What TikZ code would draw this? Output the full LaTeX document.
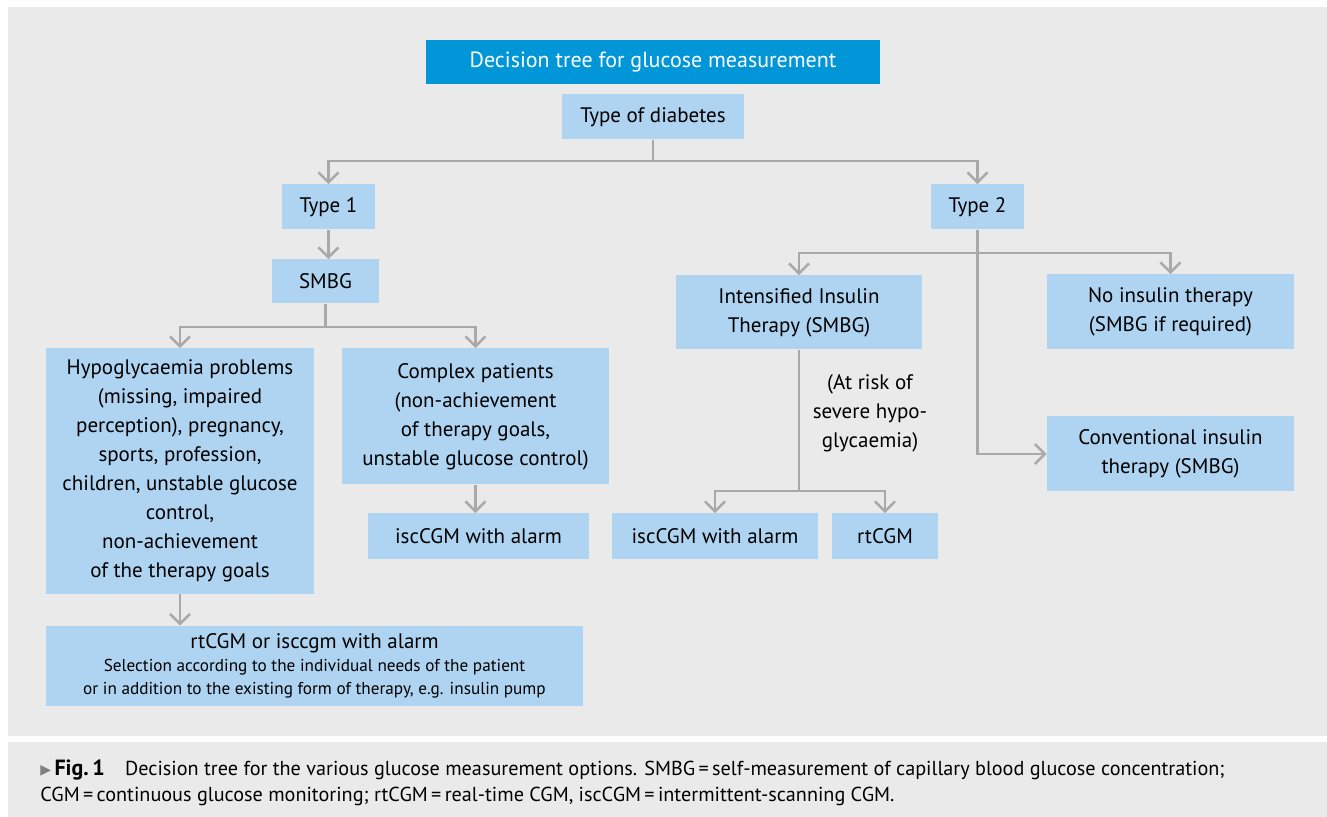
\documentclass[tikz,border=0pt]{standalone}
\usepackage{fontspec}
\setmainfont{PT Sans}
\newfontfamily\symfont{DejaVu Sans}
\usetikzlibrary{arrows.meta,positioning}
\definecolor{panelgray}{HTML}{EAEAEA}
\definecolor{boxblue}{HTML}{AED4F1}
\definecolor{titleblue}{HTML}{0096D8}
\definecolor{linkgray}{HTML}{A9A9A9}
\tikzset{
  treebox/.style={rectangle, fill=boxblue, align=center, inner sep=0pt,
                  minimum height=22.5pt,
                  font=\fontsize{10.5}{14.5}\selectfont},
  titlebox/.style={rectangle, fill=titleblue, text=white, align=center,
                   inner sep=0pt, minimum width=227pt, minimum height=22pt,
                   font=\fontsize{11}{14.5}\selectfont},
  link/.style={draw=linkgray, line width=1.25pt,
               -{Straight Barb[length=5pt, width=10pt, line width=1.25pt]}},
  risklabel/.style={align=center, inner sep=0pt,
                    font=\fontsize{10.5}{14.5}\selectfont},
  captext/.style={align=left, inner sep=0pt, anchor=west,
                  font=\fontsize{10.1}{13}\selectfont},
}
\begin{document}
\begin{tikzpicture}[x=0.5pt, y=-0.5pt]
    \useasboundingbox (0,0) rectangle (1327,817);
    % panels
    \fill[white] (0,0) rectangle (1327,817);
    \fill[panelgray] (8,7) rectangle (1327,736);
    \fill[panelgray] (8,742) rectangle (1327,817);

    \node[titlebox] (title) at (653,62) {Decision tree for glucose measurement};
    \node[treebox, minimum width=91pt] (diab) at (653,117) {Type of diabetes};

    % type 1 branch
    \node[treebox, minimum width=46.5pt] (type1) at (328.5,207) {Type 1};
    \node[treebox, minimum width=53.5pt, minimum height=22pt] (smbg) at (325.5,281.5) {SMBG};
    \node[treebox, minimum width=134pt, minimum height=122.5pt] (hypo) at (180,471)
      {Hypoglycaemia problems\\(missing, impaired\\perception), pregnancy,\\sports, profession,\\children, unstable glucose\\control,\\non-achievement\\of the therapy goals};
    \node[treebox, minimum width=133.5pt, minimum height=68pt] (complex) at (475.5,416.5)
      {Complex patients\\(non-achievement\\of therapy goals,\\unstable glucose control)};
    \node[treebox, minimum width=110.5pt] (isc1) at (478.5,536) {iscCGM with alarm};
    \node[treebox, minimum width=268.5pt, minimum height=40pt,
          font=\fontsize{8.6}{11.5}\selectfont] (rtor) at (314.5,666)
      {{\fontsize{10.5}{12}\selectfont rtCGM or isccgm with alarm}\\
       Selection according to the individual needs of the patient\\
       or in addition to the existing form of therapy, e.g. insulin pump};

    % type 2 branch
    \node[treebox, minimum width=46.5pt] (type2) at (977.5,207) {Type 2};
    \node[treebox, minimum width=123pt, minimum height=37pt] (intens) at (799,312.5)
      {Intensified Insulin\\Therapy (SMBG)};
    \node[treebox, minimum width=123.5pt, minimum height=37.5pt] (noins) at (1170.5,312)
      {No insulin therapy\\(SMBG if required)};
    \node[treebox, minimum width=123.5pt, minimum height=37.5pt] (conv) at (1170.5,454)
      {Conventional insulin\\therapy (SMBG)};
    \node[treebox, minimum width=103pt] (isc2) at (715,536) {iscCGM with alarm};
    \node[treebox, minimum width=53pt] (rt2) at (885,536) {rtCGM};
    \node[risklabel] (risk) at (870,413) {(At risk of\\severe hypo-\\glycaemia)};

    % connectors
    \draw[link] (diab.south) -- ++(0,21) -| (type1.north);
    \draw[link] (diab.south) -- ++(0,21) -| (type2.north);
    \draw[link] (type1.south) -- (type1.south |- smbg.north);
    \draw[link] (smbg.south) -- ++(0,23) -| (hypo.north);
    \draw[link] (smbg.south) -- ++(0,23) -| (complex.north);
    \draw[link] (complex.south) -- (complex.south |- isc1.north);
    \draw[link] (hypo.south) -- (hypo.south |- rtor.north);
    \draw[link] (type2.south) -- ++(0,23) -| (intens.north);
    \draw[link] (type2.south) -- ++(0,23) -| (noins.north);
    \draw[link] (type2.south) |- (conv.west);
    \draw[link] (intens.south) -- ++(0,141) -| (isc2.north);
    \draw[link] (intens.south) -- ++(0,141) -| (rt2.north);

    % caption
    \node[captext] (caption) at (40,783)
      {{\symfont\fontsize{7}{13}\selectfont\color{gray}\raisebox{0.6pt}{▶}}\,\textbf{\fontsize{11}{13}\selectfont Fig.\,1}\quad Decision tree for the various glucose measurement options. SMBG\,=\,self-measurement of capillary blood glucose concentration;\\
       CGM\,=\,continuous glucose monitoring; rtCGM\,=\,real-time CGM, iscCGM\,=\,intermittent-scanning CGM.};
\end{tikzpicture}
\end{document}
